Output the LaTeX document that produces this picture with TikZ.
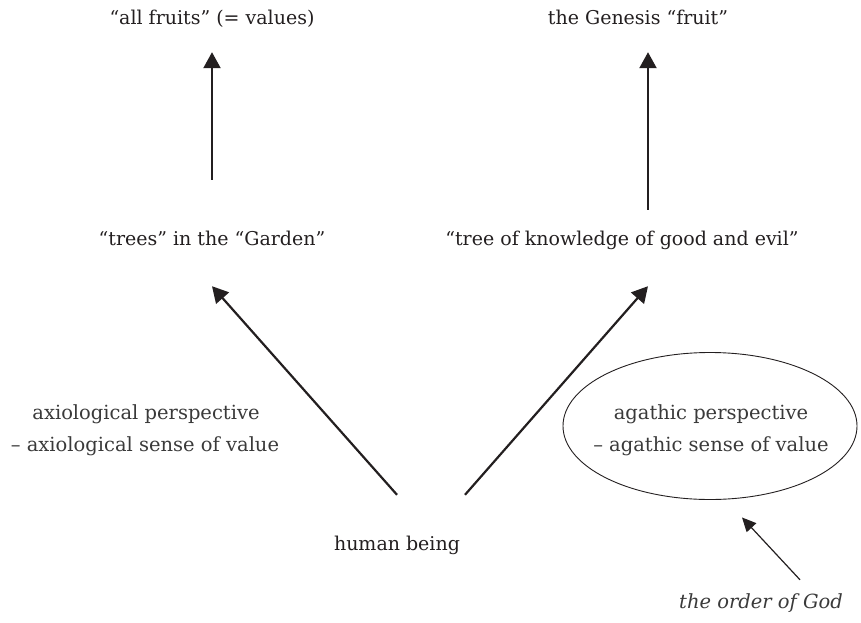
\documentclass[tikz,border=0pt]{standalone}
\usepackage{fontspec}
\setmainfont{DejaVu Serif}
\usetikzlibrary{arrows.meta,calc,shapes.geometric}
\definecolor{ink}{HTML}{231F20}
\definecolor{soft}{HTML}{3A3A3A}
\tikzset{
  lbl/.style={inner sep=0pt,text height=15pt,text depth=5pt,text=ink,font=\fontsize{19}{22}\selectfont},
  thin/.style={inner sep=0pt,text height=15pt,text depth=5pt,text=soft,font=\fontsize{19.5}{22}\selectfont},
  arr/.style={draw=ink,line width=2.2pt,-{Triangle[length=16pt,width=17pt]}},
  sarr/.style={draw=ink,line width=1.2pt,-{Triangle[length=14pt,width=13pt]}},
}
\begin{document}
\begin{tikzpicture}[x=1pt,y=-1pt]
\useasboundingbox (0,0) rectangle (861,623);
\node[lbl] (fruits) at (212,20) {“all fruits” (= values)};
\node[lbl] (gen) at (638,20) {the Genesis “fruit”};
\node[lbl] (trees) at (212,240) {“trees” in the “Garden”};
\node[lbl] (tok) at (622,240) {“tree of knowledge of good and evil”};
\node[thin] (ax1) at (146,414) {axiological perspective};
\node[thin] (ax2) at (145,446) {– axiological sense of value};
\node[draw=ink,line width=0.9pt,ellipse,minimum width=294pt,minimum height=147pt,inner sep=0pt] (ell) at (710,426) {};
\node[thin] (ag1) at (711,414) {agathic perspective};
\node[thin] (ag2) at (711,446) {– agathic sense of value};
\node[lbl] (human) at (397,545) {human being};
\node[thin,font=\fontsize{19.5}{22}\selectfont\itshape] (god) at (761,603) {the order of God};
% arrows
\draw[arr] ($(trees.north)+(0,-50)$) -- ($(fruits.south)+(0,22)$);
\draw[arr] ($(tok.north)+(26,-20)$) -- ($(gen.south)+(10,22)$);
\draw[arr] ($(human.north)+(0,-40)$) -- ($(trees.south)+(0,36)$);
\draw[arr] ($(human.north)+(68,-40)$) -- ($(tok.south)+(26,36)$);
\draw[sarr] ($(god.north)+(39,-13)$) -- ($(ell.south)+(32,17.5)$);
\end{tikzpicture}
\end{document}
